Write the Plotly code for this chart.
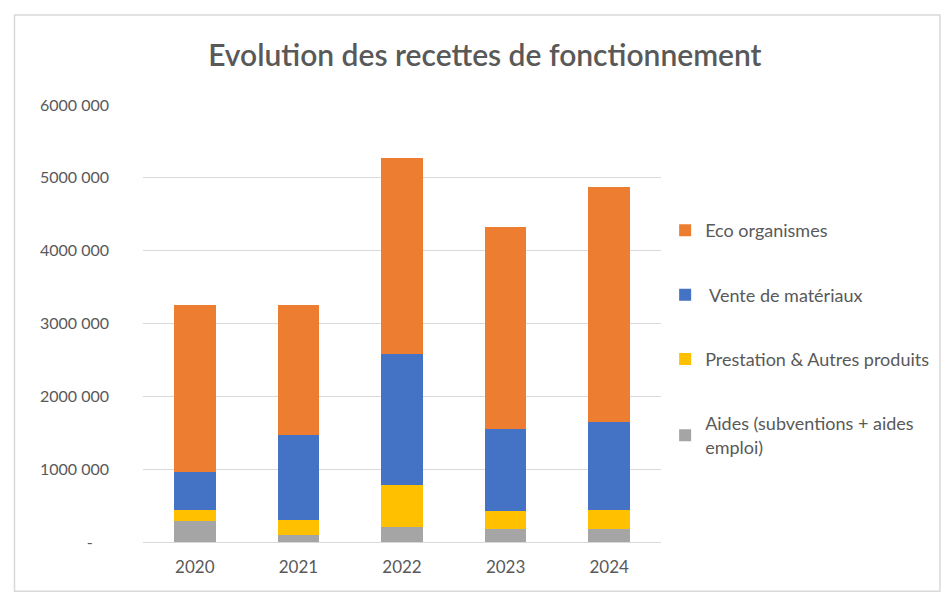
import plotly.graph_objects as go

years = ["2020", "2021", "2022", "2023", "2024"]
aides = [290000, 100000, 206000, 184000, 184000]
prestation = [145000, 207000, 573000, 238000, 261000]
vente = [525000, 1168000, 1800000, 1136000, 1203000]
eco = [2290000, 1775000, 2690000, 2762000, 3228000]

tick_vals = [0, 1000000, 2000000, 3000000, 4000000, 5000000, 6000000]
tick_text = ["-\u00a0\u00a0\u00a0\u00a0", "1000 000", "2000 000", "3000 000", "4000 000", "5000 000", "6000 000"]

series = [
    ("Aides (subventions + aides<br>emploi)", aides, "#A5A5A5", 4),
    ("Prestation & Autres produits", prestation, "#FFC000", 3),
    ("\u00a0Vente de matériaux", vente, "#4472C4", 2),
    ("Eco organismes", eco, "#ED7D31", 1),
]

fig = go.Figure()
for i, (name, vals, col, rank) in enumerate(series):
    fig.add_trace(go.Bar(x=years, y=vals, name=name, marker=dict(color=col, line=dict(width=0)),
                         legendgroup=str(i), legendrank=rank))

font_family = "Lato, 'Open Sans', sans-serif"
fig.update_layout(
    barmode="stack",
    bargap=0.6,
    width=947, height=593,
    margin=dict(l=143, r=284, t=105, b=51),
    paper_bgcolor="white", plot_bgcolor="white",
    font=dict(family=font_family, color="#595959", size=16),
    title=dict(text="Evolution des recettes de fonctionnement", x=0.512, xanchor="center",
               y=0.907, yanchor="middle",
               font=dict(size=30, color="#595959", family=font_family, weight=600)),
    legend=dict(x=1.008, y=0.755, xanchor="left", yanchor="top", traceorder="grouped",
                tracegroupgap=38, font=dict(size=18, color="#595959"), itemwidth=30,
                bgcolor="rgba(0,0,0,0)"),
    xaxis=dict(showgrid=False, showline=True, linecolor="#D9D9D9", linewidth=1,
               tickfont=dict(size=17, color="#595959"), ticks="", ticklabelstandoff=10),
    yaxis=dict(range=[0, 6000000], tickvals=tick_vals, ticktext=tick_text, showgrid=True,
               gridcolor="#D9D9D9", gridwidth=1, zeroline=False, showline=False,
               tickfont=dict(size=16, color="#595959"), ticklabelstandoff=33),
    showlegend=True,
)
fig.add_shape(type="rect", xref="paper", yref="paper",
              x0=(14 - 143) / 520, x1=(943 - 143) / 520,
              y0=(541.7 - 591) / 436.7, y1=(541.7 - 15) / 436.7,
              line=dict(color="#D9D9D9", width=1.5), fillcolor="rgba(0,0,0,0)", layer="below")
fig.write_html("out.html", config={"displayModeBar": False},
               post_script="document.body.style.margin='0';document.body.style.overflow='hidden';")
